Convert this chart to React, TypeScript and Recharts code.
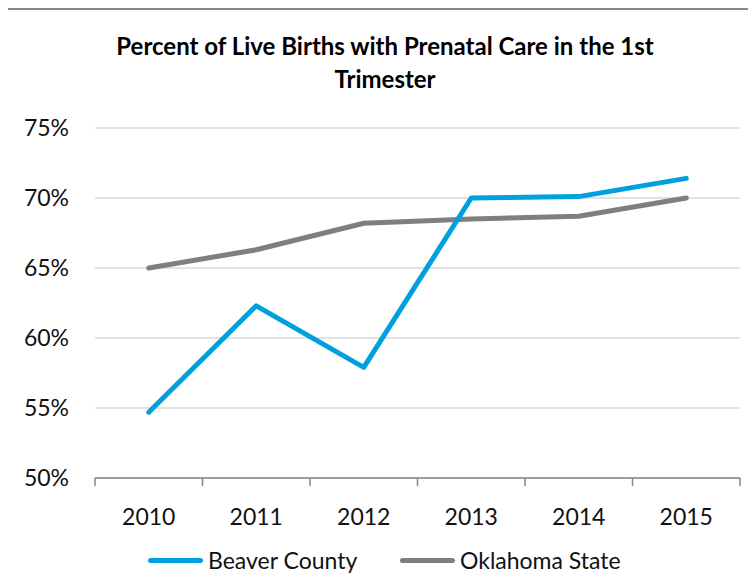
import React from 'react'
import {
  LineChart,
  Line,
  XAxis,
  YAxis,
  CartesianGrid,
} from 'recharts'

const years = ['2010', '2011', '2012', '2013', '2014', '2015']
const beaverCounty = [54.7, 62.3, 57.9, 70.0, 70.1, 71.4]
const oklahomaState = [65.0, 66.3, 68.2, 68.5, 68.7, 70.0]
const yTicks = [50, 55, 60, 65, 70, 75]

const seriesNames = ['Beaver County', 'Oklahoma State']
const seriesColors = ['#00A0DC', '#7F7F7F']

const data = years.map((year, i) => ({
  year,
  beaver: beaverCounty[i],
  oklahoma: oklahomaState[i],
}))

const FONT = 'Lato, "Open Sans", sans-serif'
const PLOT_WIDTH = 645
const HALF_BAND = PLOT_WIDTH / years.length / 2

// category label in the middle, tick marks on the band edges like Excel does
function YearTick(props: any) {
  const { x, y, payload, index } = props
  const isLast = index === years.length - 1
  return (
    <g>
      <line x1={x - HALF_BAND} y1={y} x2={x - HALF_BAND} y2={y + 8} stroke="#868686" strokeWidth={1.5} />
      {isLast && (
        <line x1={x + HALF_BAND} y1={y} x2={x + HALF_BAND} y2={y + 8} stroke="#868686" strokeWidth={1.5} />
      )}
      <text
        x={x}
        y={y + 38}
        textAnchor="middle"
        dominantBaseline="central"
        fill="#111"
        fontSize={23}
        fontFamily={FONT}
      >
        {payload.value}
      </text>
    </g>
  )
}

export default function App() {
  return (
    <div style={styles.page}>
      <div style={styles.frame} />
      <div style={styles.title}>
        Percent of Live Births with Prenatal Care in the 1st
        <br />
        Trimester
      </div>
      <div style={styles.chartBox}>
        <LineChart
          width={756}
          height={584}
          data={data}
          margin={{ top: 128, right: 16, bottom: 46, left: 0 }}
        >
          <CartesianGrid vertical={false} stroke="#D9D9D9" strokeWidth={1.5} />
          <XAxis
            dataKey="year"
            padding={{ left: HALF_BAND, right: HALF_BAND }}
            height={60}
            tickLine={false}
            tickSize={0}
            tickMargin={0}
            axisLine={{ stroke: '#868686', strokeWidth: 1.5 }}
            tick={<YearTick />}
            interval={0}
          />
          <YAxis
            width={95}
            domain={[50, 75]}
            ticks={yTicks}
            interval={0}
            axisLine={false}
            tickLine={false}
            tickSize={0}
            tickMargin={26}
            tickFormatter={(v: number) => `${v}%`}
            tick={{ fontSize: 23, fill: '#111', fontFamily: FONT }}
          />
          <Line
            type="linear"
            dataKey="oklahoma"
            name={seriesNames[1]}
            stroke={seriesColors[1]}
            strokeWidth={5}
            strokeLinecap="round"
            strokeLinejoin="round"
            dot={false}
            isAnimationActive={false}
          />
          <Line
            type="linear"
            dataKey="beaver"
            name={seriesNames[0]}
            stroke={seriesColors[0]}
            strokeWidth={5}
            strokeLinecap="round"
            strokeLinejoin="round"
            dot={false}
            isAnimationActive={false}
          />
        </LineChart>
      </div>
      {seriesNames.map((name, i) => (
        <div key={name} style={{ ...styles.legendItem, left: legendLeft[i] }}>
          <span style={{ ...styles.legendSwatch, background: seriesColors[i] }} />
          <span>{name}</span>
        </div>
      ))}
    </div>
  )
}

const legendLeft = [148, 400]

const styles: Record<string, React.CSSProperties> = {
  page: {
    position: 'relative',
    width: 756,
    height: 584,
    margin: -8,
    overflow: 'hidden',
    background: '#fff',
    fontFamily: FONT,
  },
  frame: {
    position: 'absolute',
    left: 3,
    top: 8,
    width: 800,
    height: 620,
    border: '2px solid #878787',
  },
  title: {
    position: 'absolute',
    left: 0,
    top: 29,
    width: 770,
    textAlign: 'center',
    fontSize: 24,
    fontWeight: 700,
    lineHeight: '33px',
    color: '#000',
  },
  chartBox: {
    position: 'absolute',
    left: 0,
    top: 0,
  },
  legendItem: {
    position: 'absolute',
    top: 545,
    display: 'flex',
    alignItems: 'center',
    fontSize: 23,
    lineHeight: '30px',
    color: '#111',
    whiteSpace: 'nowrap',
  },
  legendSwatch: {
    display: 'inline-block',
    width: 55,
    height: 5,
    borderRadius: 3,
    marginRight: 5,
  },
}
